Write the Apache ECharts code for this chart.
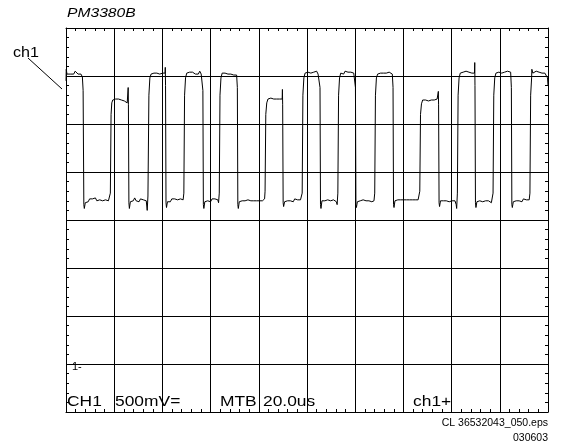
<!DOCTYPE html>
<html>
<head>
<meta charset="utf-8">
<script src="https://cdn.jsdelivr.net/npm/echarts@6/dist/echarts.min.js"></script>
<style>
html,body{margin:0;padding:0;background:#fff;}
#chart{width:562px;height:448px;}
</style>
</head>
<body>
<div id="chart"></div>
<script>
// ---- data ----
const instrumentName = 'PM3380B';
const channelName = 'ch1';
const groundMarker = '1-';
const statusLabels = ['CH1', '500mV=', 'MTB', '20.0us', 'ch1+'];
const footerLines = ['CL 36532043_050.eps', '030603'];
// time axis (us): 20 us/div, 10 div ; volt axis: 0.5 V/div, 8 div
const timeRange = [0, 200];
const timeStep = 20;
const voltRange = [-0.5, 3.5];
const voltStep = 0.5;
// ch1 trace: [time us, volts]
const ch1Trace = [
[0,2.95],[0.1,3.07],[0.4,3.02],[1.2,3.03],[2.0,3.02],[2.6,3.04],[3.2,3.02],[3.8,3.05],[4.4,3.03],[5.0,3.02],[5.6,3.04],[6.2,3.02],[6.8,2.99],
[7.1,2.85],[7.4,1.66],[7.6,1.62],
[8.0,1.68],[8.6,1.70],[9.2,1.69],[9.8,1.72],[10.4,1.70],[11.0,1.72],[11.6,1.71],[12.2,1.73],[12.8,1.70],[13.4,1.72],[14.0,1.71],[14.6,1.73],[15.2,1.70],[15.8,1.72],[16.4,1.71],[17.0,1.72],[17.6,1.70],[18.1,1.71],
[18.4,1.78],[18.7,2.6],[19.0,2.72],[19.4,2.75],[20.0,2.77],[20.6,2.76],[21.2,2.78],[21.8,2.76],[22.4,2.77],[23.0,2.75],[23.6,2.77],[24.2,2.74],[24.8,2.73],[25.4,2.72],
[25.7,2.72],[25.8,2.88],[25.9,2.7],[26.1,1.68],[26.3,1.62],
[26.7,1.69],[27.3,1.71],[27.9,1.70],[28.5,1.73],[29.1,1.70],[29.7,1.72],[30.3,1.69],[30.9,1.72],[31.5,1.70],[32.1,1.71],[32.7,1.69],[33.3,1.70],[33.7,1.60],
[34.0,1.75],[34.4,2.8],[34.8,2.98],[35.3,3.02],[35.9,3.04],[36.5,3.03],[37.1,3.05],[37.7,3.03],[38.3,3.04],[38.9,3.02],[39.5,3.04],[40.1,3.03],[40.7,3.02],[41.1,3.03],
[41.2,3.09],[41.3,2.9],[41.5,1.68],[41.7,1.63],
[42.1,1.69],[42.7,1.71],[43.3,1.69],[43.9,1.72],[44.5,1.70],[45.1,1.72],[45.7,1.70],[46.3,1.71],[46.9,1.69],[47.5,1.72],[48.1,1.70],[48.6,1.71],
[48.9,1.78],[49.2,2.8],[49.6,2.98],[50.1,3.03],[50.7,3.02],[51.3,3.04],[51.9,3.02],[52.5,3.04],[53.1,3.03],[53.7,3.02],[54.3,3.04],[54.9,3.02],[55.5,3.05],[56.1,3.02],[56.5,3.0],
[56.8,2.85],[57.0,1.66],[57.2,1.62],
[57.6,1.69],[58.2,1.71],[58.8,1.70],[59.4,1.72],[60.0,1.69],[60.6,1.72],[61.2,1.70],[61.8,1.72],[62.4,1.70],[63.0,1.71],[63.3,1.68],
[63.6,1.78],[63.9,2.8],[64.3,2.98],[64.8,3.03],[65.4,3.05],[66.0,3.03],[66.6,3.04],[67.2,3.02],[67.8,3.04],[68.4,3.02],[69.0,3.03],[69.6,3.01],[70.2,3.02],[70.8,3.01],
[71.1,2.88],[71.3,1.66],[71.5,1.62],
[71.9,1.69],[72.5,1.71],[73.1,1.70],[73.7,1.71],[74.3,1.70],[74.9,1.72],[75.5,1.71],[76.1,1.71],[76.7,1.70],[77.3,1.72],[77.9,1.70],[78.5,1.71],[79.1,1.70],[79.7,1.72],[80.3,1.70],[80.9,1.71],[81.5,1.70],[82.1,1.71],[82.4,1.72],
[82.6,1.8],[82.9,2.6],[83.3,2.72],[83.8,2.76],[84.4,2.75],[85.0,2.77],[85.6,2.75],[86.2,2.76],[86.8,2.75],[87.4,2.76],[88.0,2.75],[88.6,2.76],[89.2,2.75],[89.7,2.76],
[89.8,2.86],[89.9,2.7],[90.1,1.68],[90.3,1.64],
[90.7,1.69],[91.3,1.71],[91.9,1.70],[92.5,1.72],[93.1,1.70],[93.7,1.71],[94.3,1.69],[94.9,1.72],[95.5,1.70],[96.1,1.71],[96.7,1.70],[97.3,1.71],[97.7,1.69],
[98.0,1.78],[98.3,2.8],[98.7,2.98],[99.2,3.03],[99.8,3.02],[100.4,3.04],[101.0,3.02],[101.6,3.03],[102.2,3.02],[102.8,3.04],[103.4,3.03],[104.0,3.05],[104.6,3.02],[105.1,3.04],
[105.4,2.88],[105.6,1.66],[105.8,1.62],
[106.2,1.70],[106.8,1.72],[107.4,1.70],[108.0,1.72],[108.6,1.71],[109.2,1.73],[109.8,1.70],[110.4,1.72],[111.0,1.71],[111.6,1.70],[112.2,1.69],[112.5,1.66],
[112.8,1.78],[113.1,2.8],[113.5,2.98],[114.0,3.03],[114.6,3.04],[115.2,3.02],[115.8,3.05],[116.4,3.03],[117.0,3.04],[117.6,3.02],[118.2,3.04],[118.8,3.06],[119.4,3.03],[119.8,3.01],
[120.1,2.88],[120.3,1.66],[120.5,1.63],
[120.9,1.69],[121.5,1.71],[122.1,1.70],[122.7,1.72],[123.3,1.71],[123.9,1.72],[124.5,1.70],[125.1,1.72],[125.7,1.70],[126.3,1.71],[126.9,1.69],[127.5,1.71],[127.8,1.70],
[128.1,1.78],[128.4,2.8],[128.8,2.98],[129.3,3.02],[129.9,3.04],[130.5,3.03],[131.1,3.02],[131.7,3.03],[132.3,3.01],[132.9,3.03],[133.5,3.02],[134.1,3.04],[134.7,3.03],[135.4,3.02],
[135.7,2.88],[135.9,1.66],[136.1,1.63],
[136.5,1.70],[137.1,1.72],[137.7,1.71],[138.3,1.72],[138.9,1.71],[139.5,1.73],[140.1,1.71],[140.7,1.72],[141.3,1.71],[141.9,1.73],[142.5,1.71],[143.1,1.72],[143.7,1.71],[144.3,1.72],[144.9,1.71],[145.5,1.72],[146.1,1.71],[146.5,1.72],
[146.8,1.8],[147.1,2.6],[147.5,2.71],[148.0,2.75],[148.6,2.77],[149.2,2.75],[149.8,2.76],[150.4,2.74],[151.0,2.76],[151.6,2.75],[152.2,2.76],[152.8,2.75],[153.4,2.76],[154.0,2.76],[154.4,2.77],
[154.5,2.84],[154.6,2.7],[154.8,1.68],[155.0,1.64],
[155.4,1.70],[156.0,1.71],[156.6,1.70],[157.2,1.72],[157.8,1.70],[158.4,1.71],[159.0,1.69],[159.6,1.71],[160.2,1.70],[160.8,1.71],[161.4,1.70],[161.9,1.66],[162.1,1.62],
[162.4,1.78],[162.7,2.8],[163.1,2.98],[163.6,3.03],[164.2,3.02],[164.8,3.04],[165.4,3.03],[166.0,3.05],[166.6,3.03],[167.2,3.04],[167.8,3.02],[168.4,3.03],[169.0,3.02],[169.5,3.03],
[169.6,3.14],[169.7,2.9],[169.9,1.68],[170.1,1.63],
[170.5,1.69],[171.1,1.71],[171.7,1.70],[172.3,1.72],[172.9,1.69],[173.5,1.71],[174.1,1.70],[174.7,1.72],[175.3,1.70],[175.9,1.71],[176.5,1.68],[176.9,1.70],
[177.2,1.78],[177.5,2.8],[177.9,2.98],[178.4,3.03],[179.0,3.02],[179.6,3.04],[180.2,3.02],[180.8,3.03],[181.4,3.02],[182.0,3.04],[182.6,3.03],[183.2,3.05],[183.8,3.03],[184.5,3.04],
[184.8,2.88],[185.0,1.66],[185.2,1.63],
[185.6,1.69],[186.2,1.71],[186.8,1.70],[187.4,1.72],[188.0,1.70],[188.6,1.71],[189.2,1.69],[189.8,1.72],[190.4,1.70],[191.0,1.71],[191.6,1.70],[192.2,1.71],
[192.5,1.78],[192.8,2.8],[193.2,2.98],[193.3,3.07],[193.7,3.03],[194.5,3.03],[195.1,3.05],[195.7,3.03],[196.3,3.04],[196.9,3.02],[197.5,3.03],[198.1,3.01],[198.7,3.03],[199.3,3.02],[199.8,2.98],[200,2.9]
];

// ---- chart ----
const chart = echarts.init(document.getElementById('chart'), null, {renderer: 'canvas'});
const black = '#000';
const FONT = '"Liberation Sans", Arial, sans-serif';

function mkAxis(base, extra) {
  return Object.assign({
    type: 'value',
    axisLabel: {show: false},
    axisLine: {show: true, onZero: false, lineStyle: {color: black, width: 1}},
    axisTick: {show: true, inside: true, length: 3, lineStyle: {color: black}},
    minorTick: {show: true, splitNumber: 5, length: 3, lineStyle: {color: black}},
    splitLine: {show: false},
    silent: true
  }, base, extra);
}

const xBase = {min: timeRange[0], max: timeRange[1], interval: timeStep};
const yBase = {min: voltRange[0], max: voltRange[1], interval: voltStep};

const statusX = [67, 115, 220, 263, 413];

const graphics = [
  {type: 'text', x: 67, y: 14, scaleX: 1.25, style: {text: instrumentName, font: 'italic 12.5px ' + FONT, fill: black, verticalAlign: 'middle', align: 'left'}},
  {type: 'text', x: 13, y: 53, scaleX: 1.15, style: {text: channelName, font: '14px ' + FONT, fill: black, verticalAlign: 'middle', align: 'left'}},
  {type: 'line', shape: {x1: 28, y1: 58, x2: 62, y2: 89}, style: {stroke: black, lineWidth: 1}},
  {type: 'text', x: 72, y: 367, scaleX: 1.1, style: {text: groundMarker, font: '10px ' + FONT, fill: black, verticalAlign: 'middle', align: 'left'}},
  {type: 'text', x: 548, y: 423, style: {text: footerLines[0], font: '10.5px ' + FONT, fill: black, verticalAlign: 'middle', align: 'right'}},
  {type: 'text', x: 548, y: 438, style: {text: footerLines[1], font: '10.5px ' + FONT, fill: black, verticalAlign: 'middle', align: 'right'}}
];
statusLabels.forEach(function (s, i) {
  graphics.push({type: 'text', x: statusX[i], y: 402, scaleX: 1.16, style: {text: s, font: '15px ' + FONT, fill: black, verticalAlign: 'middle', align: 'left'}});
});

chart.setOption({
  animation: false,
  backgroundColor: '#fff',
  grid: {left: 66, right: 14, top: 28, bottom: 36, containLabel: false, show: false},
  xAxis: [
    mkAxis(xBase, {position: 'bottom', splitLine: {show: true, lineStyle: {color: black, width: 1}}}),
    mkAxis(xBase, {position: 'top'})
  ],
  yAxis: [
    mkAxis(yBase, {position: 'left', splitLine: {show: true, lineStyle: {color: black, width: 1}}}),
    mkAxis(yBase, {position: 'right'})
  ],
  series: [{
    type: 'line',
    data: ch1Trace,
    xAxisIndex: 0,
    yAxisIndex: 0,
    showSymbol: false,
    symbol: 'none',
    lineStyle: {color: black, width: 1},
    silent: true
  }],
  graphic: graphics
});
</script>
</body>
</html>
